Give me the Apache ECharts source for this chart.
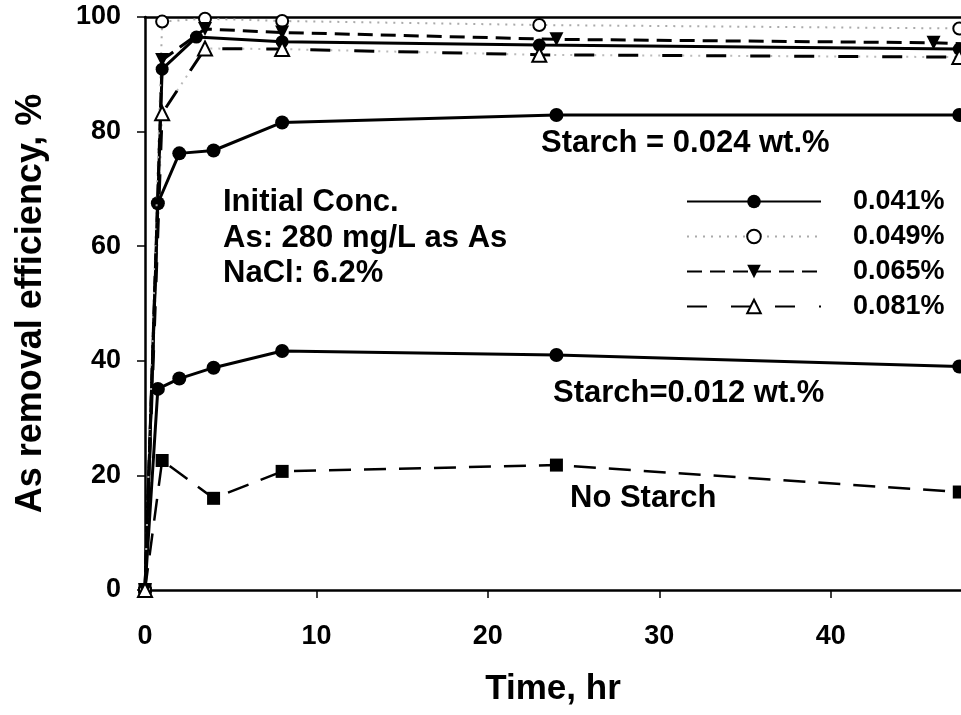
<!DOCTYPE html>
<html>
<head>
<meta charset="utf-8">
<script src="https://cdn.jsdelivr.net/npm/echarts@6/dist/echarts.min.js"></script>
<style>html,body{margin:0;padding:0;background:#fff;}#c{width:961px;height:715px;}</style>
</head>
<body>
<div id="c"></div>
<script>
// ---- data ----
const xTicks = [0, 10, 20, 30, 40];
const yTicks = [0, 20, 40, 60, 80, 100];

const tNoStarch = [0, 1, 4, 8, 24, 47.5];
const vNoStarch = [0, 22.6, 16.0, 20.7, 21.8, 17.1];

const t012 = [0, 0.75, 2, 4, 8, 24, 47.5];
const v012 = [0, 35.1, 36.9, 38.8, 41.7, 41.0, 39.0];

const t024 = [0, 0.75, 2, 4, 8, 24, 47.5];
const v024 = [0, 67.5, 76.2, 76.7, 81.6, 82.9, 82.9];

const t041 = [0, 1, 3, 8, 23, 47.5];
const v041 = [0, 90.9, 96.5, 95.7, 95.1, 94.4];

const t049 = [0, 1, 3.5, 8, 23, 47.5];
const v049 = [0, 99.2, 99.7, 99.3, 98.6, 98.0];

const t065 = [0, 1, 3.5, 8, 24, 46, 48];
const v065 = [0, 92.5, 97.9, 97.3, 96.1, 95.5, 95.3];

const t081 = [0, 1, 3.5, 8, 23, 47.5];
const v081 = [0, 83.2, 94.5, 94.4, 93.4, 93.0];

const legendNames = ['0.041%', '0.049%', '0.065%', '0.081%'];

const zip = (t, v) => t.map((x, i) => [x, v[i]]);
const FONT = '"Liberation Sans", Arial, sans-serif';

const chart = echarts.init(document.getElementById('c'), null, {renderer: 'canvas'});
const option = {
  animation: false,
  backgroundColor: '#fff',
  grid: {left: 145, right: 0, top: 17, bottom: 125, containLabel: false},
  legend: {
    orient: 'vertical', left: 686, top: 188, padding: 0,
    itemWidth: 134, itemHeight: 17, itemGap: 8,
    data: legendNames,
    textStyle: {fontFamily: FONT, fontWeight: 'bold', fontSize: 27, color: '#000', lineHeight: 27, padding: [0, 0, 0, 27]},
    inactiveColor: '#000', selectedMode: false
  },
  xAxis: [{
    type: 'value', min: 0, max: 47.6, interval: 10,
    axisLine: {lineStyle: {color: '#000', width: 2.5}},
    axisTick: {show: true, inside: false, length: 8, lineStyle: {color: '#000', width: 1.5}},
    axisLabel: {fontFamily: FONT, fontWeight: 'bold', fontSize: 27, color: '#000', margin: 33,
      showMaxLabel: false,
      formatter: v => xTicks.includes(v) ? String(v) : ''},
    splitLine: {show: false},
    name: 'Time, hr', nameLocation: 'middle', nameGap: 82,
    nameTextStyle: {fontFamily: FONT, fontWeight: 'bold', fontSize: 35, color: '#000'}
  }, {
    type: 'value', position: 'top', min: 0, max: 47.6,
    axisLine: {show: true, lineStyle: {color: '#000', width: 2.5}},
    axisTick: {show: false}, axisLabel: {show: false}, splitLine: {show: false}
  }],
  yAxis: {
    type: 'value', min: 0, max: 100, interval: 20,
    axisLine: {show: true, lineStyle: {color: '#000', width: 2.5}},
    axisTick: {show: true, inside: false, length: 8, lineStyle: {color: '#000', width: 1.5}},
    axisLabel: {fontFamily: FONT, fontWeight: 'bold', fontSize: 27, color: '#000', margin: 24,
      formatter: v => yTicks.includes(v) ? String(v) : ''},
    splitLine: {show: false},
    name: 'As removal efficiency, %', nameLocation: 'middle', nameGap: 96, nameRotate: 90,
    nameTextStyle: {fontFamily: FONT, fontWeight: 'bold', fontSize: 36, color: '#000'}
  },
  series: [
    {type: 'line', name: 'No Starch', data: zip(tNoStarch, vNoStarch), clip: false,
      symbol: 'rect', symbolSize: 13, itemStyle: {color: '#000'},
      lineStyle: {color: '#000', width: 2.5, type: [22, 13]}, z: 3},
    {type: 'line', name: 'Starch 0.012', data: zip(t012, v012), clip: false,
      symbol: 'circle', symbolSize: 14, itemStyle: {color: '#000'},
      lineStyle: {color: '#000', width: 3}, z: 3},
    {type: 'line', name: 'Starch 0.024', data: zip(t024, v024), clip: false,
      symbol: 'circle', symbolSize: 14, itemStyle: {color: '#000'},
      lineStyle: {color: '#000', width: 3}, z: 3},
    {type: 'line', name: '0.081% dots', data: zip(t081, v081), clip: false, silent: true,
      showSymbol: false, symbol: 'none', lineStyle: {color: '#bbb', width: 2, type: [2, 6]}, z: 2},
    {type: 'line', name: '0.041%', data: zip(t041, v041), clip: false,
      symbol: 'circle', symbolSize: 13, itemStyle: {color: '#000'},
      lineStyle: {color: '#000', width: 3}, z: 4},
    {type: 'line', name: '0.049%', data: zip(t049, v049), clip: false,
      symbol: 'emptyCircle', symbolSize: 12, itemStyle: {color: '#000', borderColor: '#000', borderWidth: 1.5},
      lineStyle: {color: '#aaa', width: 2, type: [2, 6]}, z: 4},
    {type: 'line', name: '0.065%', data: zip(t065, v065), clip: false,
      symbol: 'triangle', symbolRotate: 180, symbolSize: 14, itemStyle: {color: '#000'},
      lineStyle: {color: '#000', width: 3, type: [15, 8]}, z: 4},
    {type: 'line', name: '0.081%', data: zip(t081, v081), clip: false,
      symbol: 'emptyTriangle', symbolSize: 14, itemStyle: {color: '#000', borderColor: '#000', borderWidth: 1.5},
      lineStyle: {color: '#000', width: 3, type: [20, 24]}, z: 4}
  ],
  graphic: [
    {type: 'text', style: {x: 541, y: 143, text: 'Starch = 0.024 wt.%', textVerticalAlign: 'middle', font: 'bold 31px ' + FONT, fill: '#000'}},
    {type: 'text', style: {x: 553, y: 393, text: 'Starch=0.012 wt.%', textVerticalAlign: 'middle', font: 'bold 31px ' + FONT, fill: '#000'}},
    {type: 'text', style: {x: 570, y: 498, text: 'No Starch', textVerticalAlign: 'middle', font: 'bold 31px ' + FONT, fill: '#000'}},
    {type: 'text', style: {x: 223, y: 202, text: 'Initial Conc.', textVerticalAlign: 'middle', font: 'bold 31px ' + FONT, fill: '#000'}},
    {type: 'text', style: {x: 223, y: 238, text: 'As: 280 mg/L as As', textVerticalAlign: 'middle', font: 'bold 31px ' + FONT, fill: '#000'}},
    {type: 'text', style: {x: 223, y: 273, text: 'NaCl: 6.2%', textVerticalAlign: 'middle', font: 'bold 31px ' + FONT, fill: '#000'}}
  ]
};
chart.setOption(option);
</script>
</body>
</html>
